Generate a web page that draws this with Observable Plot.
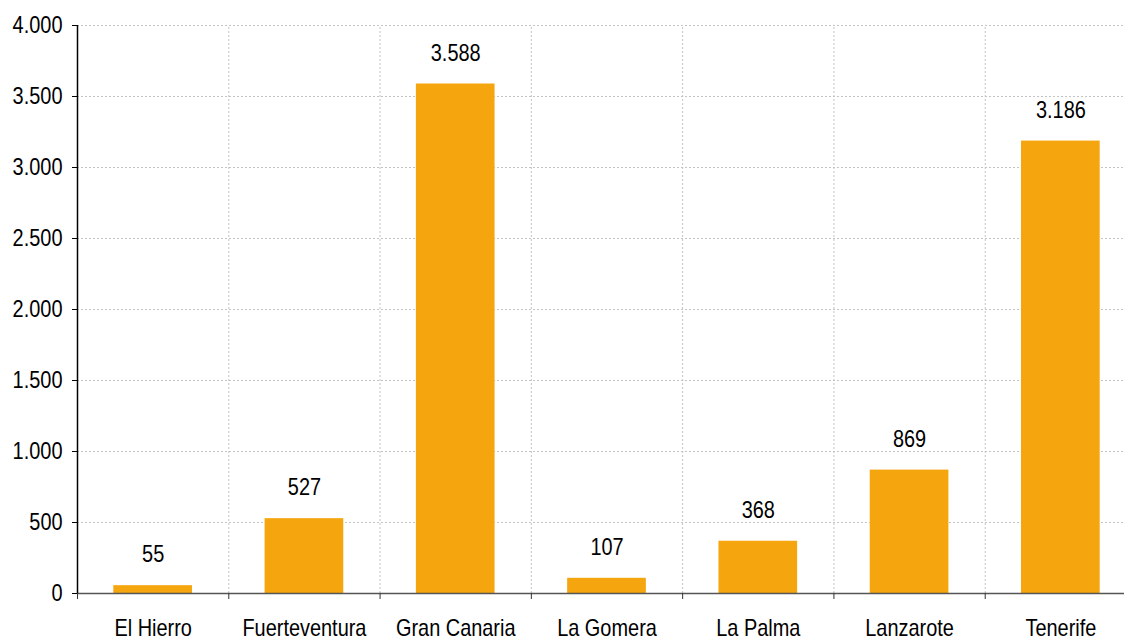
<!DOCTYPE html>
<html>
<head>
<meta charset="utf-8">
<script src="https://cdn.jsdelivr.net/npm/d3@7"></script>
<script src="https://cdn.jsdelivr.net/npm/@observablehq/plot@0.6"></script>
<style>
  html, body { margin: 0; padding: 0; background: #fff; overflow: hidden; }
  #chart { width: 1136px; }
</style>
</head>
<body>
<div id="chart"></div>
<script>
const categories = ["El Hierro", "Fuerteventura", "Gran Canaria", "La Gomera", "La Palma", "Lanzarote", "Tenerife"];
const values = [55, 527, 3588, 107, 368, 869, 3186];
const yTicks = [0, 500, 1000, 1500, 2000, 2500, 3000, 3500, 4000];

const locale = d3.formatLocale({decimal: ",", thousands: ".", grouping: [3], currency: ["", " €"]});
const fmt = locale.format(",d");

const data = categories.map((c, i) => ({cat: c, i, value: values[i]}));
const bounds = d3.range(categories.length + 1);
const centers = categories.map((c, i) => i + 0.5);

const chart = Plot.plot({
  width: 1136,
  height: 639,
  marginLeft: 77,
  marginRight: 0,
  marginTop: 25,
  marginBottom: 46,
  style: {fontFamily: "'Liberation Sans', Arial, sans-serif", fontSize: "24px", color: "#000", overflow: "visible"},
  x: {type: "linear", domain: [0, categories.length], axis: null},
  y: {domain: [0, 4000], axis: null},
  marks: [
    Plot.ruleY(yTicks.slice(1), {stroke: "#c4c4c4", strokeDasharray: "2,2", strokeWidth: 1}),
    Plot.ruleX(bounds.slice(1), {y1: 0, y2: 4000, stroke: "#c4c4c4", strokeDasharray: "2,2", strokeWidth: 1}),
    Plot.rectY(data, {x1: d => d.i + 0.24, x2: d => d.i + 0.76, y1: 0, y2: "value", fill: "#F5A50D"}),
    Plot.text(data, {x: d => d.i + 0.5, y: "value", text: d => fmt(d.value), dy: -31, fill: "#000", fontSize: 24}),
    Plot.ruleY([0], {stroke: "#555", strokeWidth: 1.5}),
    Plot.ruleX([0], {y1: 0, y2: 4000, stroke: "#000", strokeWidth: 1.5}),
    Plot.axisX({ticks: bounds, tickSize: 6, tickFormat: () => "", stroke: "#333", label: null}),
    Plot.axisX({ticks: centers, tickSize: 0, tickPadding: 25, tickFormat: d => categories[Math.floor(d)], fontSize: 24, label: null}),
    Plot.axisY({ticks: yTicks, tickSize: 5, tickPadding: 10, tickFormat: fmt, fontSize: 24, stroke: "#000", label: null})
  ]
});
document.getElementById("chart").appendChild(chart);
// emulate the condensed typeface of the original
chart.querySelectorAll("text").forEach(t => {
  const len = t.getComputedTextLength();
  if (len > 0) {
    t.setAttribute("textLength", (len * 0.83).toFixed(1));
    t.setAttribute("lengthAdjust", "spacingAndGlyphs");
  }
});
</script>
</body>
</html>
